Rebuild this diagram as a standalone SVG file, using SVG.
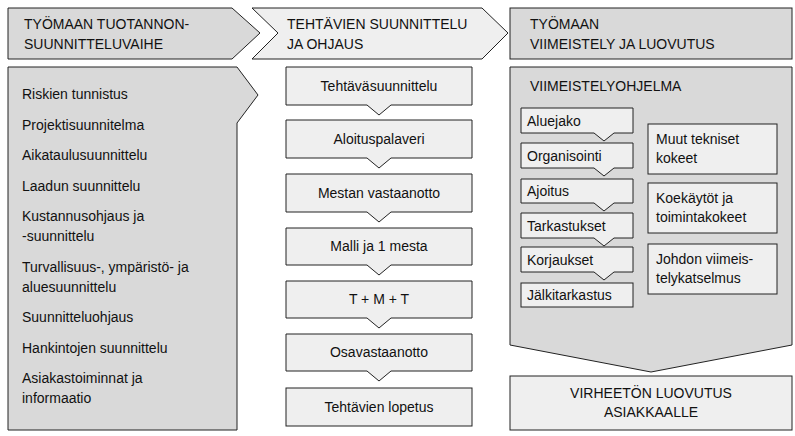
<svg xmlns="http://www.w3.org/2000/svg" width="795" height="436" viewBox="0 0 795 436">
<style>
.d{fill:#d9d9d9;stroke:#222;stroke-width:1}
.l{fill:#efefef;stroke:#222;stroke-width:1}
text{font-family:"Liberation Sans",Arial,sans-serif;font-size:14px;fill:#111}
.c{text-anchor:middle}
</style>
<rect width="795" height="436" fill="#fff"/>
<g id="h1"><path class="d" d="M8,8H232L260,33L232,59H8Z"/><text x="24" y="29">TYÖMAAN TUOTANNON-</text><text x="24" y="49">SUUNNITTELUVAIHE</text></g>
<g id="h2"><path class="l" d="M252,8H482L508,33L482,59H252L278,33Z"/><text x="287" y="29">TEHTÄVIEN SUUNNITTELU</text><text x="287" y="49">JA OHJAUS</text></g>
<g id="h3"><rect class="d" x="510" y="8" width="282" height="51"/><text x="530" y="29">TYÖMAAN</text><text x="530" y="49">VIIMEISTELY JA LUOVUTUS</text></g>
<g id="left"><path class="d" d="M8,67H237L258,95L237,123V430H8Z"/>
<text x="22" y="99">Riskien tunnistus</text>
<text x="22" y="130">Projektisuunnitelma</text>
<text x="22" y="160">Aikataulusuunnittelu</text>
<text x="22" y="191">Laadun suunnittelu</text>
<text x="22" y="221">Kustannusohjaus ja</text>
<text x="22" y="241">-suunnittelu</text>
<text x="22" y="272">Turvallisuus-, ympäristö- ja</text>
<text x="22" y="292">aluesuunnittelu</text>
<text x="22" y="322">Suunnitteluohjaus</text>
<text x="22" y="353">Hankintojen suunnittelu</text>
<text x="22" y="383">Asiakastoiminnat ja</text>
<text x="22" y="403">informaatio</text></g>
<g id="m1"><path class="l" d="M286,67H472V105H391L379,115L367,105H286Z"/><text class="c" x="379" y="91">Tehtäväsuunnittelu</text></g>
<g id="m2"><path class="l" d="M286,120H472V158H391L379,168L367,158H286Z"/><text class="c" x="379" y="144">Aloituspalaveri</text></g>
<g id="m3"><path class="l" d="M286,174H472V212H391L379,222L367,212H286Z"/><text class="c" x="379" y="198">Mestan vastaanotto</text></g>
<g id="m4"><path class="l" d="M286,228H472V265H391L379,275L367,265H286Z"/><text class="c" x="379" y="251">Malli ja 1 mesta</text></g>
<g id="m5"><path class="l" d="M286,281H472V318H391L379,328L367,318H286Z"/><text class="c" x="379" y="304">T + M + T</text></g>
<g id="m6"><path class="l" d="M286,334H472V371H391L379,381L367,371H286Z"/><text class="c" x="379" y="357">Osavastaanotto</text></g>
<g id="m7"><rect class="l" x="286" y="388" width="186" height="38"/><text class="c" x="379" y="412">Tehtävien lopetus</text></g>
<g id="right"><path class="d" d="M510,67H792V345L651,372L510,345Z"/><text x="530" y="91">VIIMEISTELYOHJELMA</text></g>
<g id="r1"><path class="l" d="M521,108H633V133H614L604,141L594,133H521Z"/><text x="527" y="126">Aluejako</text></g>
<g id="r2"><path class="l" d="M521,143H633V168H614L604,176L594,168H521Z"/><text x="527" y="161">Organisointi</text></g>
<g id="r3"><path class="l" d="M521,179H633V203H614L604,211L594,203H521Z"/><text x="527" y="196">Ajoitus</text></g>
<g id="r4"><path class="l" d="M521,213H633V238H614L604,246L594,238H521Z"/><text x="527" y="231">Tarkastukset</text></g>
<g id="r5"><path class="l" d="M521,247H633V272H614L604,280L594,272H521Z"/><text x="527" y="265">Korjaukset</text></g>
<g id="r6"><rect class="l" x="521" y="283" width="112" height="24"/><text x="527" y="300">Jälkitarkastus</text></g>
<g id="q1"><rect class="l" x="648" y="124" width="129" height="50"/><text x="656" y="144">Muut tekniset</text><text x="656" y="163">kokeet</text></g>
<g id="q2"><rect class="l" x="648" y="183" width="129" height="50"/><text x="656" y="203">Koekäytöt ja</text><text x="656" y="222">toimintakokeet</text></g>
<g id="q3"><rect class="l" x="648" y="244" width="129" height="50"/><text x="656" y="264">Johdon viimeis-</text><text x="656" y="283">telykatselmus</text></g>
<g id="final"><rect class="l" x="510" y="376" width="282" height="54"/><text class="c" x="651" y="398">VIRHEETÖN LUOVUTUS</text><text class="c" x="651" y="417">ASIAKKAALLE</text></g>
<g id="connectors"></g>
</svg>
